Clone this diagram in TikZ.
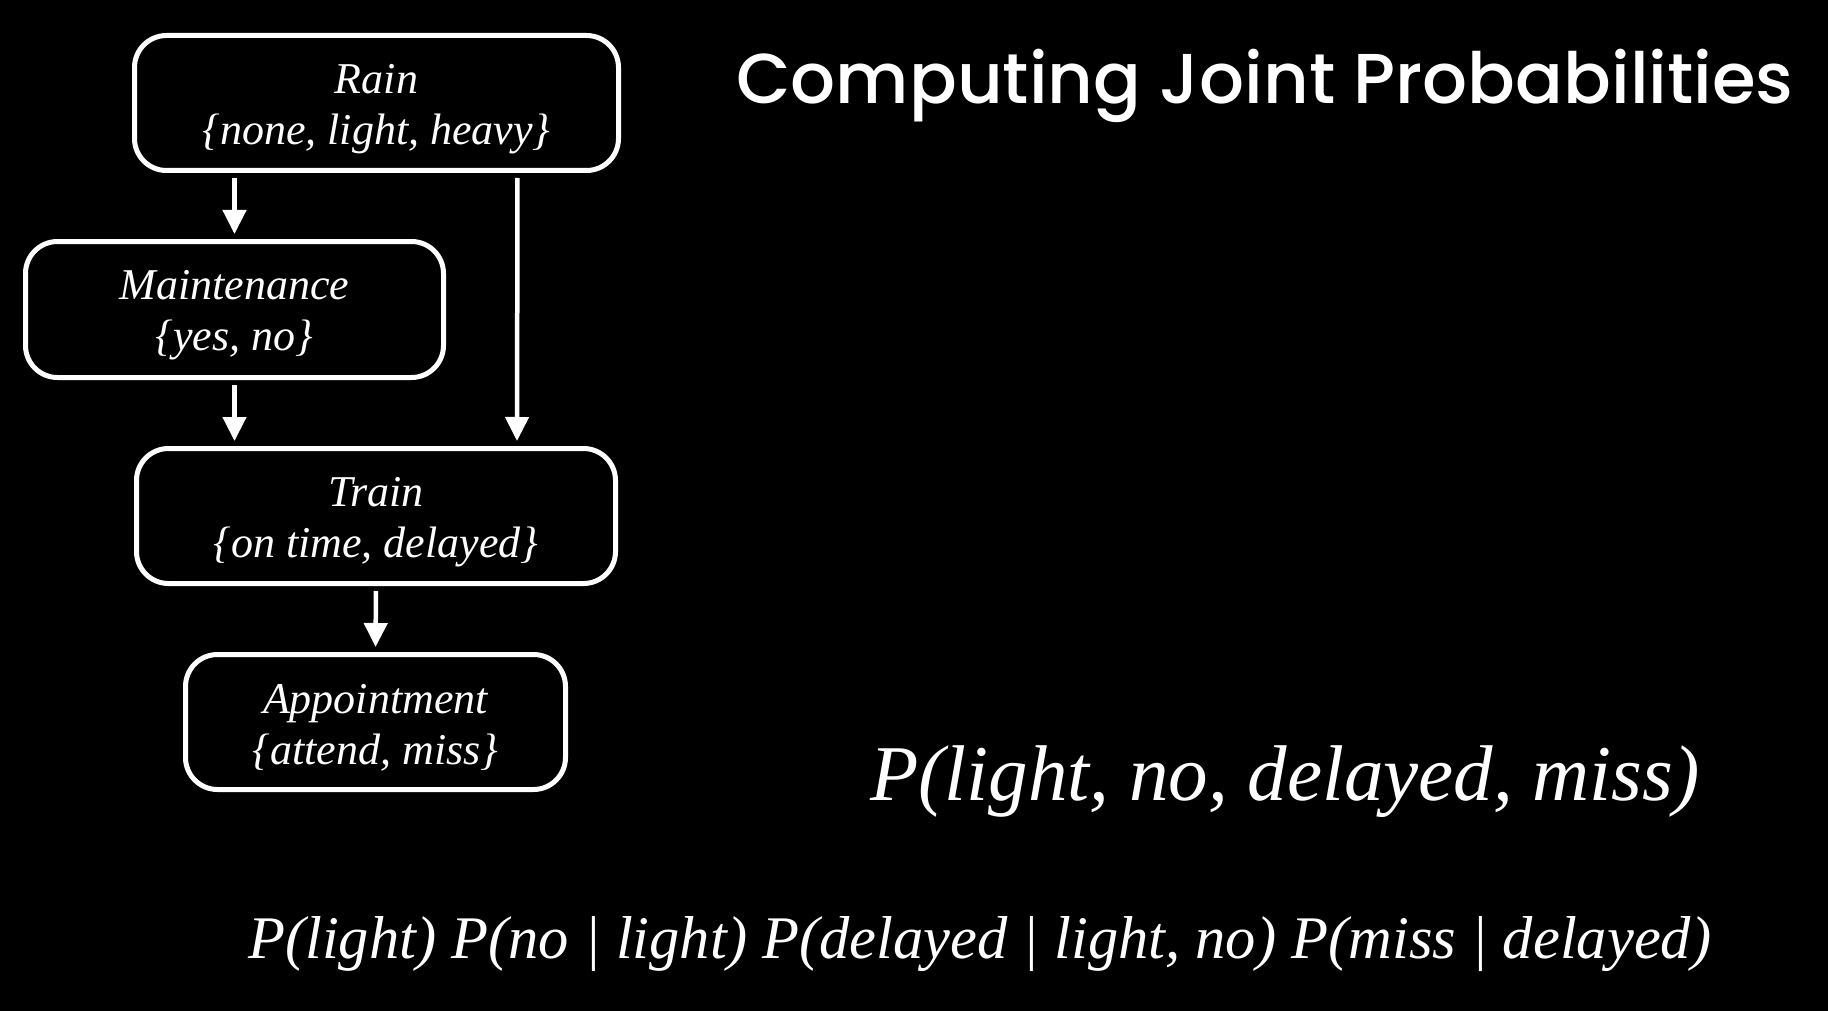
\documentclass[tikz,border=0pt]{standalone}
\usepackage{fontspec}
\setmainfont{Liberation Serif}
\newfontfamily\titlefont{Poppins Medium}
\usetikzlibrary{arrows.meta}
\newcommand\toppad{\rule{0pt}{41pt}}
\begin{document}
\begin{tikzpicture}[x=1pt,y=-1pt,
  varbox/.style={draw=white, line width=5pt, rounded corners=32pt, text=white,
    font=\fontsize{44}{51}\selectfont\itshape, align=center, inner sep=0pt},
  arr/.style={draw=white, line width=4.5pt, -{Triangle[length=24pt,width=23pt]},
    shorten <=5pt, shorten >=5pt},
  eq/.style={text=white, inner sep=0pt, anchor=base west}]
\fill[black] (0,0) rectangle (1828,1011);
\useasboundingbox (0,0) rectangle (1828,1011);

\node[varbox, minimum width=484pt, minimum height=135pt] (rain) at (376.5,103)
  {\toppad Rain\\\{none, light, heavy\}};
\node[varbox, minimum width=418pt, minimum height=136pt] (maint) at (234.5,309.5)
  {\toppad Maintenance\\\{yes, no\}};
\node[varbox, minimum width=479pt, minimum height=135pt] (train) at (376,516)
  {\toppad Train\\\{on time, delayed\}};
\node[varbox, minimum width=380pt, minimum height=135pt] (appt) at (375.5,722)
  {\toppad Appointment\\\{attend, miss\}};

\draw[arr] (rain.south -| maint.north) -- (maint.north);
\draw[arr] ([xshift=141pt]rain.south) -- ([xshift=141pt]train.north);
\draw[arr] (maint.south) -- (maint.south |- train.north);
\draw[arr] (train.south) -- (appt.north);

\node[eq, font=\titlefont\fontsize{70.6}{80}\selectfont] (title) at (736,104)
  {Computing Joint Probabilities};
\node[eq, font=\fontsize{79}{90}\selectfont\itshape] (joint) at (870,800)
  {P(light, no, delayed, miss)};
\node[eq, font=\fontsize{60.5}{70}\selectfont\itshape] (chain) at (248,958)
  {P(light) P(no | light) P(delayed | light, no) P(miss | delayed)};
\end{tikzpicture}
\end{document}
